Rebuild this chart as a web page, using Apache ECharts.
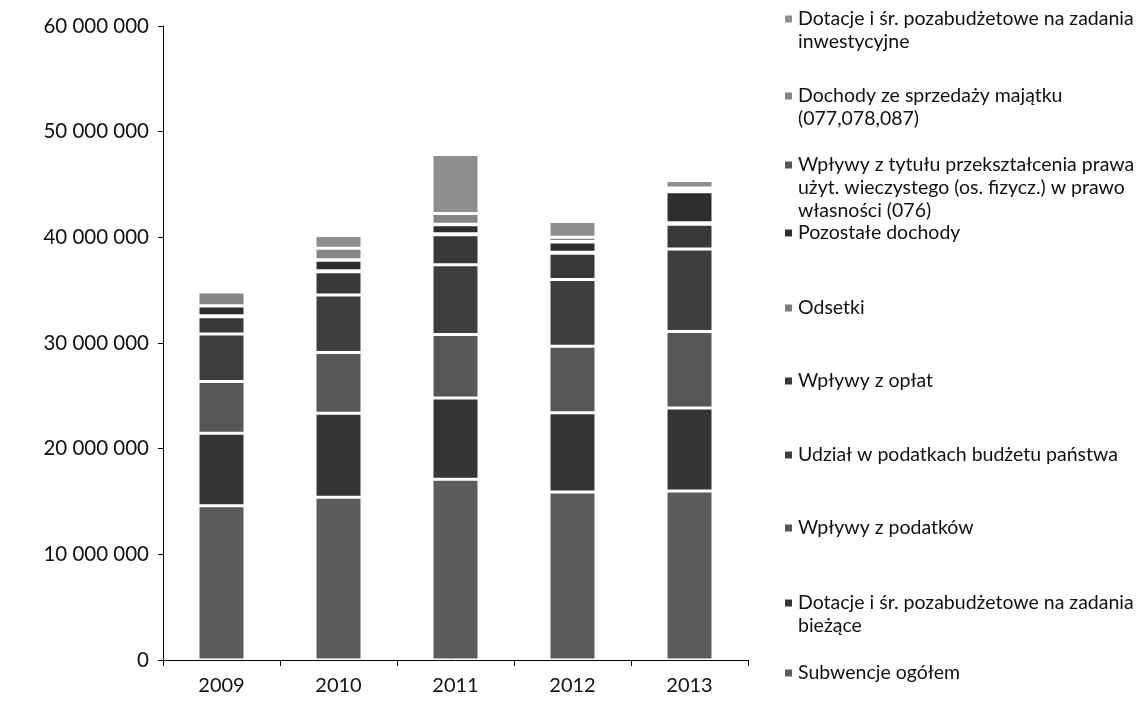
<!DOCTYPE html>
<html>
<head>
<meta charset="utf-8">
<script src="https://cdn.jsdelivr.net/npm/echarts@6/dist/echarts.min.js"></script>
<style>html,body{margin:0;padding:0;background:#fff}#c{width:1146px;height:712px}</style>
</head>
<body>
<div id="c"></div>
<script>
// Categories
const years = ['2009', '2010', '2011', '2012', '2013'];
// Series values (zł), bottom of stack first
const subwencje       = [14600000, 15400000, 17100000, 15900000, 16000000];
const dotacjeBiezace  = [ 6850000,  7950000,  7700000,  7500000,  7850000];
const wplywyPodatki   = [ 4900000,  5750000,  6000000,  6300000,  7250000];
const udzialPodatki   = [ 4500000,  5450000,  6600000,  6300000,  7800000];
const wplywyOplaty    = [ 1640000,  2200000,  2850000,  2500000,  2350000];
const odsetki         = [  100000,    80000,   100000,   100000,   120000];
const pozostale       = [  900000,  1000000,   850000,   950000,  2950000];
const przeksztalcenie = [   30000,    40000,    50000,    50000,    60000];
const sprzedaz        = [ 1300000,  1100000,  1000000,   400000,   300000];
const dotacjeInwest   = [  300000,  1200000,  5600000,  1500000,   700000];
// Axis ticks
const yTicks = [0, 10000000, 20000000, 30000000, 40000000, 50000000, 60000000];

const seriesDefs = [
  {name: 'Subwencje ogółem', data: subwencje, color: '#5c5c5c', lines: ['Subwencje ogółem']},
  {name: 'Dotacje i śr. pozabudżetowe na zadania bieżące', data: dotacjeBiezace, color: '#353535', lines: ['Dotacje i śr. pozabudżetowe na zadania', 'bieżące']},
  {name: 'Wpływy z podatków', data: wplywyPodatki, color: '#575757', lines: ['Wpływy z podatków']},
  {name: 'Udział w podatkach budżetu państwa', data: udzialPodatki, color: '#3e3e3e', lines: ['Udział w podatkach budżetu państwa']},
  {name: 'Wpływy z opłat', data: wplywyOplaty, color: '#383838', lines: ['Wpływy z opłat']},
  {name: 'Odsetki', data: odsetki, color: '#7a7a7a', lines: ['Odsetki']},
  {name: 'Pozostałe dochody', data: pozostale, color: '#2e2e2e', lines: ['Pozostałe dochody']},
  {name: 'Wpływy z tytułu przekształcenia prawa użyt. wieczystego (os. fizycz.) w prawo własności (076)', data: przeksztalcenie, color: '#555555', lines: ['Wpływy z tytułu przekształcenia prawa', 'użyt. wieczystego (os. fizycz.) w prawo', 'własności (076)']},
  {name: 'Dochody ze sprzedaży majątku (077,078,087)', data: sprzedaz, color: '#858585', lines: ['Dochody ze sprzedaży majątku', '(077,078,087)']},
  {name: 'Dotacje i śr. pozabudżetowe na zadania inwestycyjne', data: dotacjeInwest, color: '#8e8e8e', lines: ['Dotacje i śr. pozabudżetowe na zadania', 'inwestycyjne']}
];
// first-line centre of each legend entry (same order as seriesDefs)
const legendFirstLine = [673, 603, 528, 455, 381, 308, 233, 165, 96, 19];

const FONT = 'Lato, "Open Sans", sans-serif';
const LH = 23;

function fmt(v) {
  return String(v).replace(/\B(?=(\d{3})+(?!\d))/g, ' ');
}

const legends = seriesDefs.map((s, i) => {
  const n = s.lines.length;
  const pad = [];
  for (let k = 1; k < n; k++) pad.push(' ');
  return {
    data: [s.name],
    left: 783,
    top: legendFirstLine[i] - LH * (n - 0.5),
    padding: 0,
    icon: 'rect',
    itemWidth: 9,
    itemHeight: 9,
    selectedMode: false,
    formatter: () => pad.concat(s.lines).join('\n'),
    textStyle: {
      color: '#111',
      fontFamily: FONT,
      fontSize: 19.5,
      lineHeight: LH
    }
  };
});

const chart = echarts.init(document.getElementById('c'), null, {renderer: 'canvas'});
chart.setOption({
  animation: false,
  backgroundColor: '#ffffff',
  grid: {left: 163, right: 398, top: 26, bottom: 52},
  legend: legends,
  xAxis: {
    type: 'category',
    data: years,
    axisLine: {show: true, lineStyle: {color: '#000', width: 1}},
    axisTick: {show: true, alignWithLabel: false, length: 6, lineStyle: {color: '#000'}},
    axisLabel: {color: '#111', fontFamily: FONT, fontSize: 20, margin: 16}
  },
  yAxis: {
    type: 'value',
    min: yTicks[0],
    max: yTicks[yTicks.length - 1],
    interval: yTicks[1] - yTicks[0],
    splitLine: {show: false},
    axisLine: {show: true, lineStyle: {color: '#000', width: 1}},
    axisTick: {show: true, length: 5, lineStyle: {color: '#000'}},
    axisLabel: {color: '#111', fontFamily: FONT, fontSize: 20.5, margin: 14, formatter: fmt}
  },
  series: seriesDefs.map(s => ({
    name: s.name,
    type: 'bar',
    stack: 'total',
    barWidth: 47,
    data: s.data,
    itemStyle: {color: s.color, borderColor: '#ffffff', borderWidth: 1.5}
  }))
});
</script>
</body>
</html>
